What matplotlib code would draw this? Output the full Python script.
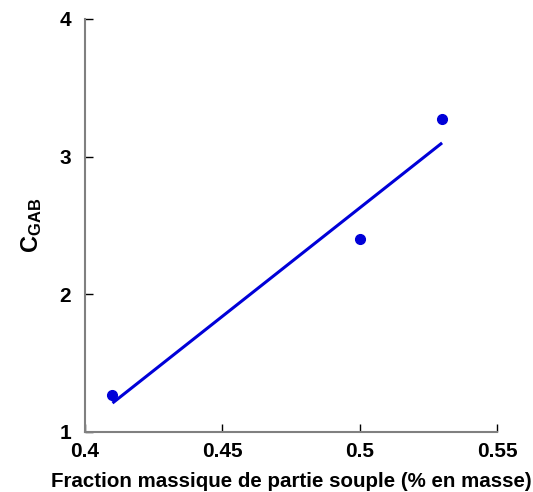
import matplotlib
matplotlib.use('Agg')
import matplotlib.pyplot as plt

plt.rcParams['font.family'] = ['Liberation Sans', 'DejaVu Sans']
plt.rcParams['mathtext.fontset'] = 'custom'
plt.rcParams['mathtext.rm'] = 'Liberation Sans:bold'
plt.rcParams['mathtext.bf'] = 'Liberation Sans:bold'

# measured points
frac = [0.41, 0.50, 0.53]
c_gab = [1.27, 2.40, 3.27]
# fitted line endpoints
fit_x = [0.41, 0.53]
fit_y = [1.21, 3.10]

xticks = [0.4, 0.45, 0.5, 0.55]
xticklabels = ['0.4', '0.45', '0.5', '0.55']
yticks = [1, 2, 3, 4]

blue = '#0000d8'

fig = plt.figure(figsize=(5.33, 4.92), dpi=100)
ax = fig.add_axes([0.1595, 0.122, 0.773, 0.8394])

ax.plot(fit_x, fit_y, color=blue, lw=2.2, solid_capstyle='butt')
ax.plot(frac, c_gab, 'o', color=blue, ms=7, mec=blue)

ax.set_xlim(0.4, 0.55)
ax.set_ylim(1, 4)
ax.set_xticks(xticks)
ax.set_xticklabels(xticklabels)
ax.set_yticks(yticks)

for s in ['top', 'right']:
    ax.spines[s].set_visible(False)
for s in ['left', 'bottom']:
    ax.spines[s].set_color('#808080')
    ax.spines[s].set_linewidth(1.5)

ax.tick_params(direction='in', length=6, width=1, color='black',
               labelsize=15)
ax.tick_params(axis='x', pad=7)
ax.tick_params(axis='y', pad=10)
for lab in ax.get_xticklabels() + ax.get_yticklabels():
    lab.set_fontweight('bold')

ax.set_xlabel('Fraction massique de partie souple (% en masse)',
              fontsize=14.8, fontweight='bold', labelpad=8)
ax.set_ylabel(r'$\mathbf{C_{GAB}}$', fontsize=17, labelpad=11)

fig.savefig('out.png', dpi=100)
